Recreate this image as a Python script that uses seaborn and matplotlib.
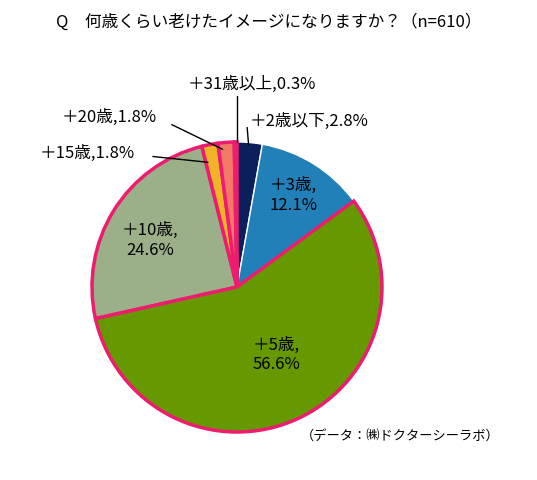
import matplotlib
matplotlib.use("Agg")
import matplotlib.pyplot as plt
import seaborn as sns

sns.set_theme(style="white")
plt.rcParams['font.family'] = ['Noto Sans CJK JP', 'DejaVu Sans']
plt.rcParams['text.color'] = 'black'

categories = ["＋2歳以下", "＋3歳", "＋5歳", "＋10歳", "＋15歳", "＋20歳", "＋31歳以上"]
values = [2.8, 12.1, 56.6, 24.6, 1.8, 1.8, 0.3]
colors = ["#0a1f5c", "#2280b8", "#669900", "#9bb088", "#f0b428", "#f27868", "#7a9a30"]

fig = plt.figure(figsize=(5.37, 4.8), dpi=100)
ax = fig.add_axes([0, 0, 1, 1])

wedges, _ = ax.pie(values, colors=colors, startangle=90, counterclock=False,
                   radius=1.0, wedgeprops=dict(linewidth=1.0, edgecolor="white"))
for i in [2, 3, 4, 5, 6]:
    wedges[i].set_edgecolor("#ee1c6e")
    wedges[i].set_linewidth(2.5)
for w in wedges:
    w.set_zorder(2)
wedges[2].set_zorder(3)

ax.set_aspect("auto")
ax.set_xlim(-237/145, 300/145)
ax.set_ylim(-193/145, 287/145)
ax.axis("off")

fs = 12
ax.text(0.39, 0.63, "＋3歳,\n12.1%", ha="center", va="center", fontsize=fs, zorder=5)
ax.text(0.27, -0.47, "＋5歳,\n56.6%", ha="center", va="center", fontsize=fs, zorder=5)
ax.text(-0.6, 0.32, "＋10歳,\n24.6%", ha="center", va="center", fontsize=fs, zorder=5)
ax.text(0.09, 1.14, "＋2歳以下,2.8%", ha="left", va="center", fontsize=fs)
ax.text(0.1, 1.4, "＋31歳以上,0.3%", ha="center", va="center", fontsize=fs)
ax.text(-0.88, 1.17, "＋20歳,1.8%", ha="center", va="center", fontsize=fs)
ax.text(-1.03, 0.92, "＋15歳,1.8%", ha="center", va="center", fontsize=fs)

lc = "black"
ax.plot([0.0, 0.0], [1.32, 1.0], color=lc, lw=1)
ax.plot([0.07, 0.08], [1.1, 0.98], color=lc, lw=1)
ax.plot([-0.45, -0.1], [1.12, 0.95], color=lc, lw=1)
ax.plot([-0.58, -0.2], [0.9, 0.86], color=lc, lw=1)

fig.text(0.5, 1 - 22/480, "Q　何歳くらい老けたイメージになりますか？（n=610）",
         ha="center", va="center", fontsize=12)
fig.text(0.93, 1 - 437/480, "（データ：㈱ドクターシーラボ）", ha="right", va="center", fontsize=9.5)

fig.savefig("out.png", dpi=100)
